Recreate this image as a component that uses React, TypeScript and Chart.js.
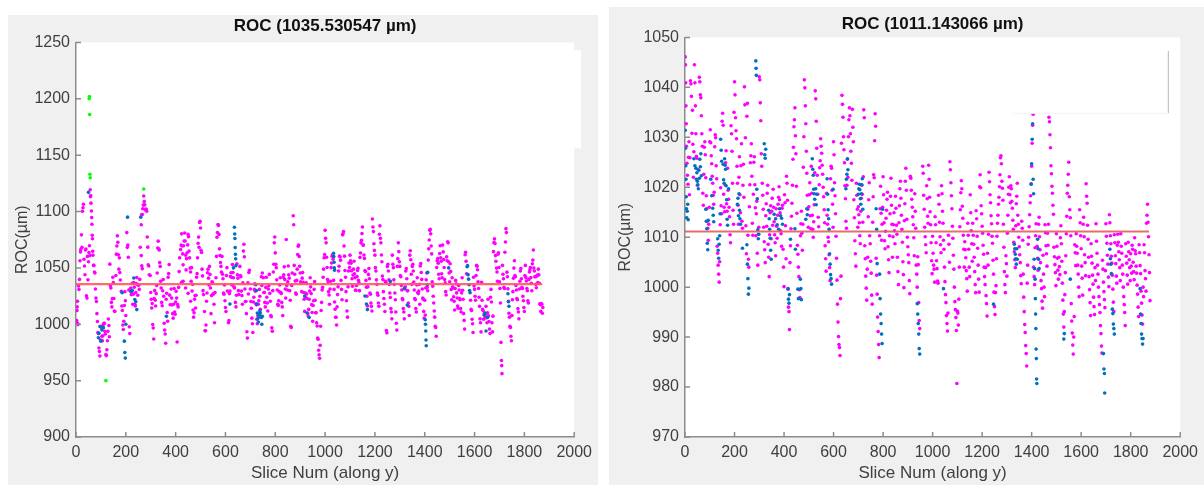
import React, { useEffect, useRef } from "react";
import { Chart, registerables } from "chart.js";

Chart.register(...registerables);

type P = [number, number];

const FONT = "'Liberation Sans', Arial, Helvetica, sans-serif";
const AXIS_COLOR = "#8c8c8c";
const TEXT_COLOR = "#404040";

// ---------- shared axis text ----------
const xAxisTitle = "Slice Num (along y)";
const yAxisTitle = "ROC(µm)";
const xTickRange = [0, 2000, 200]; // min, max, step

// ---------- left panel ----------
const leftTitle = "ROC (1035.530547 µm)";
const leftMean = 1035.530547;
const leftMeanX = [0, 1872];
const leftYRange = [900, 1250, 50];

const leftMagenta: P[] = [
  [2,1001.3],[3,1003.2],[4,1012.2],[5,1015.4],[6,1020.4],[7,1000.7],[8,999.7],[10,1033.9],[12,1030.9],[14,1039.8],[16,1056.3],[18,1064.2],[19,1066.2],
  [22,1079.3],[24,1068.2],[26,1100.2],[28,1103.4],[30,1106.4],[32,1057.7],[34,1051.7],[36,1043.9],[38,1065.9],[40,1066.8],[42,1025.3],[44,1023.2],[46,1060.2],[48,1039.4],[50,1055.4],[52,1063.7],[54,1069.7],[56,1060.9],
  [57,1119.3],[58,1113.2],[59,1114.2],[60,1107.4],[62,1100.4],[63,1094.7],[64,1088.7],[65,1078.9],[66,1075.9],[67,1064.8],[68,1061.3],[70,1052.2],[72,1052.2],[74,1046.4],[76,1045.4],
  [78,1031.3],[80,1023.2],[82,1020.2],[84,1009.4],[86,1002.4],[88,992.7],[90,991.7],[92,978.9],[94,975.9],[96,971.8],[98,986.3],[100,998.2],[102,997.2],[104,989.4],[106,985.4],[108,989.7],[110,999.7],[112,1000.9],[114,1000.9],[116,993.8],[118,991.3],[120,973.2],[122,972.2],[124,977.4],[126,985.4],[128,993.7],[130,1004.7],[132,998.9],[134,988.9],
  [136,1053.3],[138,1034.2],[140,1032.2],[142,1019.4],[144,1015.4],[146,1022.7],[148,1041.7],[150,1036.9],[152,1022.9],[154,1011.8],[156,1011.3],[160,1043.2],[162,1062.2],[164,1069.4],[166,1078.4],[168,1072.7],[170,1061.7],[172,1048.9],[174,1058.9],[176,1045.8],[178,1039.3],
  [182,1029.3],[184,1016.2],[186,1012.2],[188,999.4],[190,995.4],[192,1002.7],[194,1016.7],[196,1028.9],[198,1020.9],[200,1007.8],[204,1081.3],[206,1068.2],[208,1070.2],[210,1059.4],[212,1030.4],[214,997.7],[216,991.7],
  [218,1031.3],[220,1032.2],[222,1026.2],[224,1027.4],[226,1036.4],[228,1017.7],[230,1026.7],[232,1036.9],[234,1032.9],[236,1017.8],[238,1016.3],[240,1028.2],[242,1036.2],[244,1041.4],[246,1035.4],[248,1025.7],[250,1034.7],[252,1034.9],[254,1030.9],[256,1039.8],
  [258,1068.3],[262,1088.2],[264,1097.2],[266,1097.4],[268,1102.4],[270,1105.7],[272,1113.7],[274,1108.9],[276,1105.9],[278,1101.8],[280,1101.3],[282,1102.2],[284,1100.2],[286,1077.4],[288,1068.4],[290,1052.7],[292,1051.7],[294,1043.9],[262,1060.9],[264,1051.8],[266,1049.3],
  [298,1043.3],[300,1028.2],[302,1022.2],[304,1014.4],[306,1018.4],[308,999.7],[310,996.7],[312,986.9],[314,1022.9],[316,1029.8],[318,1021.3],[320,1016.2],[322,1027.2],[324,1034.4],[326,1045.4],[328,1067.7],[330,1073.7],[332,1066.9],[334,1065.9],[336,1054.8],[338,1051.3],[340,1038.2],[342,1032.2],[344,1019.4],[346,1016.4],[348,1029.7],[350,1039.7],[352,1024.9],[354,1000.9],[356,994.8],[358,991.3],[360,983.2],[362,1022.2],[364,1027.4],[366,1010.4],[368,1002.7],[370,1041.7],[372,1044.9],[374,1052.9],[376,1025.8],[378,1017.3],
  [382,1031.3],[384,1023.2],[386,1017.2],[388,1009.4],[390,1005.4],[392,1017.7],[394,1031.7],[396,1010.9],[398,1008.9],[400,1019.8],[402,1029.3],[404,1023.2],[406,984.2],[408,1017.4],[410,1015.4],[412,1032.7],[414,1046.7],[416,1058.9],
  [420,1066.3],[422,1070.2],[424,1080.2],[426,1069.4],[428,1062.4],[430,1052.7],[432,1069.7],[434,1073.9],[436,1080.9],[438,1073.8],[440,1061.3],[442,1048.2],[444,1058.2],[446,1063.4],[448,1070.4],[450,1079.7],[452,1077.7],[454,1064.9],[456,1058.9],[458,1049.8],[460,1046.3],[462,1038.2],[464,1050.2],[466,1029.4],[468,1035.4],
  [424,1037.3],[430,1038.2],[440,1032.2],[450,1027.4],[460,1020.4],[470,1012.7],
  [472,1006.3],[474,1010.2],[476,1022.2],[478,1025.4],[480,1014.4],[482,1025.7],[484,1041.7],[486,1044.9],[488,1058.9],[490,1071.8],[492,1077.3],[494,1068.2],[496,1090.2],[498,1091.4],[500,1085.4],[502,1065.7],[504,1063.7],[506,1048.9],[508,1042.9],[510,1029.8],[512,1026.3],
  [516,1011.3],[518,994.2],[520,994.2],[522,999.4],[524,1020.4],[526,1027.7],[528,1045.7],[530,1048.9],[532,1040.9],[534,1034.8],[536,1051.3],[538,1044.2],[540,1032.2],[542,1009.4],[544,1025.4],[546,1037.7],[548,1036.7],[550,1026.9],[552,1026.9],[554,1017.8],[556,1001.3],[558,1028.2],
  [562,1041.3],[564,1060.2],[566,1077.2],[568,1081.4],[570,1088.4],[572,1087.7],[574,1079.7],[576,1066.9],[578,1060.9],[580,1054.8],[582,1051.3],[584,1046.2],[586,1060.2],[588,1044.4],[590,1040.4],[592,1027.7],[594,1026.7],[596,1034.9],[598,1020.9],[600,1014.8],[602,1011.3],[604,1043.2],[606,1050.2],[608,1029.4],
  [612,1001.3],[614,1003.2],[616,1027.2],[618,1029.4],[620,1042.4],[622,1045.7],[624,1041.7],[626,1034.9],[628,1052.9],[630,1045.8],[632,1041.3],[634,1033.2],[636,1032.2],[640,1019.4],[642,1015.4],[644,1025.7],[646,1053.7],[648,1043.9],[650,1040.9],[652,1029.8],[654,1026.3],
  [658,1051.3],[660,1043.2],[662,1042.2],[664,1029.4],[666,1025.4],[668,1017.7],[670,1036.7],[672,1064.9],[674,1070.9],[676,1059.8],[678,1031.3],[680,1020.2],[682,1020.2],[684,1009.4],[686,993.4],[688,987.7],[690,1036.7],[692,1026.9],[694,1045.9],[696,1047.8],
  [700,1031.3],[702,1020.2],[704,1014.2],[706,1005.4],[708,1000.4],[710,992.7],[712,1019.7],[714,1023.9],[716,1030.9],[718,1035.8],[720,1029.3],[722,1018.2],[724,1017.2],[726,1004.4],[728,1000.4],[730,1007.7],[732,1017.7],[734,1020.9],[736,1030.9],[738,1024.8],[740,1013.3],[742,1006.2],[744,1042.2],[746,1034.4],[748,1045.4],
  [752,1041.3],[754,1028.2],[756,1028.2],[758,1019.4],[760,1015.4],[762,1032.7],[764,1041.7],[766,1023.9],[768,1018.9],[770,1011.8],[772,1031.3],[774,1034.2],[776,1044.2],[778,1027.4],[780,1020.4],[782,1007.7],[784,1006.7],[786,996.9],[788,993.9],[790,1029.8],[792,1046.3],[794,1053.2],[796,1072.2],[798,1077.4],
  [800,1063.3],[802,1053.2],[804,1050.2],[806,1039.4],[808,1030.4],[810,1017.7],[812,1016.7],[814,1020.9],[816,1028.9],[818,1034.8],[820,1041.3],[822,1028.2],[824,1027.2],[826,1019.4],[828,1015.4],[830,1007.7],[832,1041.7],[834,1043.9],[836,1050.9],[838,1039.8],[840,1031.3],[842,1023.2],[844,1075.2],[846,1034.4],[848,1030.4],[850,1037.7],[852,1051.7],[854,1043.9],[856,1040.9],[858,1029.8],[860,1021.3],[862,998.2],[864,997.2],[866,1034.4],[868,1045.4],
  [872,1096.3],[874,1088.2],[876,1052.2],[878,1044.4],[880,1038.4],[882,1027.7],[884,1026.7],[886,1038.9],[888,1048.9],[890,1061.8],[892,1069.3],[894,1070.2],[896,1060.2],[898,1051.4],[900,1045.4],[902,1037.7],[904,1036.7],[906,1028.9],[908,1040.9],[910,1045.8],[912,1037.3],[914,1028.2],[916,1022.2],[918,1011.4],[920,1024.4],[922,1027.7],[924,1036.7],[926,1026.9],[928,1022.9],[930,1009.8],[932,1007.3],[934,1013.2],[936,1022.2],[938,1029.4],
  [940,1041.3],[942,1033.2],[944,1027.2],[946,1017.4],[948,1010.4],[950,1002.7],[952,1016.7],[954,1020.9],[956,1030.9],[958,1037.8],[960,1021.3],[962,1010.2],[964,1010.2],[966,1001.4],[968,998.4],[970,987.7],[972,986.7],[974,976.9],[976,972.9],[978,969.8],[980,981.3],[982,998.2],[984,1012.2],[986,1019.4],[988,1030.4],[990,1032.7],[992,1041.7],[994,1048.9],[996,1058.9],[998,1061.8],
  [1000,1083.3],[1002,1076.2],[1004,1072.2],[1006,1059.4],[1008,1050.4],[1010,1039.7],[1012,1037.7],[1014,1028.9],[1016,1025.9],[1018,1017.8],[1020,1031.3],[1022,1038.2],[1024,1050.2],[1026,1054.4],[1028,1060.4],[1030,1061.7],[1032,1057.7],[1034,1038.9],[1036,1030.9],[1038,1019.8],[1040,1013.3],[1042,1006.2],[1044,1006.2],[1046,999.4],[1048,1015.4],
  [1050,1026.3],[1052,1033.2],[1054,1047.2],[1056,1051.4],[1058,1060.4],[1060,1059.7],[1062,1056.7],[1064,1038.9],[1066,1030.9],[1068,1021.8],[1070,1079.3],[1072,1080.2],[1074,1082.2],[1076,1069.4],[1078,1060.4],[1080,1047.7],[1082,1041.7],[1084,1028.9],[1086,1020.9],[1088,1011.8],[1090,1006.3],[1092,1033.2],[1094,1047.2],[1096,1054.4],[1098,1050.4],
  [1100,1061.3],[1102,1056.2],[1104,1054.2],[1106,1047.4],[1108,1040.4],[1110,1033.7],[1112,1043.7],[1114,1048.9],[1116,1055.9],[1118,1044.8],[1120,1041.3],[1122,1030.2],[1124,1030.2],[1126,1034.4],[1128,1042.4],[1130,1047.7],[1132,1049.7],[1134,1038.9],[1136,1036.9],[1138,1029.8],[1140,1059.3],[1142,1063.2],[1144,1072.2],[1146,1074.4],[1148,1080.4],
  [1150,1086.3],[1152,1070.2],[1154,1070.2],[1156,1061.4],[1158,1058.4],[1160,1047.7],[1162,1046.7],[1164,1038.9],[1166,1032.9],[1168,1024.8],[1170,1016.3],[1172,1033.2],[1174,1044.2],[1176,1049.4],[1178,1040.4],[1180,1027.7],[1182,1026.7],[1184,1018.9],[1186,1015.9],[1188,1011.8],[1190,1093.3],[1192,1086.2],[1194,1082.2],[1196,1071.4],[1198,1065.4],
  [1200,1061.3],[1202,1050.2],[1204,1047.2],[1206,1039.4],[1208,1035.4],[1210,1027.7],[1212,1025.7],[1214,1018.9],[1216,1015.9],[1218,1079.8],[1220,1087.3],[1222,1076.2],[1224,1072.2],[1226,1061.4],[1228,1055.4],[1230,1042.7],[1232,1039.7],[1234,1028.9],[1236,1022.9],[1238,1017.8],[1240,1011.3],[1242,1038.2],[1244,1037.2],[1246,994.4],[1248,992.4],
  [1250,1051.3],[1252,1053.2],[1254,1047.2],[1256,1039.4],[1258,1035.4],[1260,1027.7],[1262,1023.7],[1264,1013.9],[1266,1010.9],[1268,1004.8],[1270,1061.3],[1272,1053.2],[1274,1050.2],[1276,1039.4],[1278,1035.4],[1280,1027.7],[1282,1021.7],[1284,1010.9],[1286,1000.9],[1288,994.8],[1290,1051.3],[1292,1058.2],[1294,1072.2],[1296,1064.4],[1298,1055.4],
  [1300,1051.3],[1302,1043.2],[1304,1042.2],[1306,1034.4],[1308,1030.4],[1310,1022.7],[1312,1021.7],[1314,1013.9],[1316,1010.9],[1318,1004.8],[1320,1031.3],[1322,1033.2],[1324,1047.2],[1326,1049.4],[1328,1040.4],[1330,1029.7],[1332,1029.7],[1334,1018.9],[1336,1015.9],[1338,1007.8],[1340,1061.3],[1342,1065.2],[1344,1057.2],[1346,1044.4],[1348,1035.4],
  [1350,1051.3],[1352,1053.2],[1354,1047.2],[1356,1037.4],[1358,1030.4],[1360,1022.7],[1362,1021.7],[1364,1013.9],[1366,1010.9],[1368,1034.8],[1370,1041.3],[1372,1028.2],[1374,1027.2],[1376,1029.4],[1378,1035.4],[1380,1017.7],[1382,1051.7],[1384,1053.9],[1386,1045.9],[1388,1039.8],[1390,1031.3],[1392,1023.2],[1394,1022.2],[1396,1011.4],[1398,1005.4],
  [1400,1021.3],[1402,1008.2],[1404,1032.2],[1406,1039.4],[1408,1045.4],[1410,1032.7],[1412,1029.7],[1414,1056.9],[1416,1066.9],[1418,1074.8],[1420,1083.3],[1422,1084.2],[1424,1080.2],[1426,1069.4],[1428,1062.4],[1430,1037.7],[1432,1033.7],[1434,1024.9],[1436,1018.9],[1438,1011.8],[1440,1006.3],[1442,998.2],[1444,997.2],[1446,989.4],[1448,1050.4],
  [1450,1056.3],[1452,1058.2],[1454,1054.2],[1456,1044.4],[1458,1040.4],[1460,1062.7],[1462,1069.7],[1464,1058.9],[1466,1055.9],[1468,1044.8],[1470,1041.3],[1472,1070.2],[1474,1064.2],[1476,1057.4],[1478,1050.4],[1480,1039.7],[1482,1036.7],[1484,1028.9],[1486,1025.9],[1488,1059.8],[1490,1056.3],[1492,1073.2],[1494,1072.2],[1496,1055.4],[1498,1045.4],[1500,1037.7],[1502,1053.7],[1504,1046.9],[1506,1030.9],[1508,1021.8],
  [1510,1041.3],[1512,1033.2],[1514,1032.2],[1516,1024.4],[1518,1020.4],[1520,1012.7],[1522,1031.7],[1524,1038.9],[1526,1035.9],[1528,1027.8],[1530,1023.3],[1532,1016.2],[1534,1014.2],[1536,1034.4],[1538,1030.4],[1540,1022.7],[1542,1021.7],[1544,1013.9],[1546,1010.9],[1548,1027.8],[1550,1041.3],[1552,1030.2],[1554,1022.2],[1556,1009.4],[1558,1003.4],[1560,995.7],[1562,1061.7],[1564,1063.9],[1566,1055.9],[1568,1044.8],
  [1584,1021.3],[1586,1013.2],[1588,1012.2],[1590,1004.4],[1592,1000.4],[1594,992.7],[1596,1041.7],[1598,1033.9],[1600,1030.9],[1602,1024.8],[1604,1021.3],[1606,1043.2],[1608,1052.2],[1610,1051.4],[1612,1048.4],[1614,1037.7],[1616,1031.7],[1618,1023.9],[1620,1015.9],[1622,1004.8],[1624,1001.3],[1626,993.2],[1628,1037.2],
  [1630,1021.3],[1632,1013.2],[1634,1012.2],[1636,1004.4],[1638,1008.4],[1640,1009.7],[1642,1005.7],[1644,1008.9],[1646,1015.9],[1648,1005.8],[1650,1001.3],[1652,1010.2],[1654,1022.2],[1656,1007.4],[1658,1002.4],[1660,995.7],[1662,991.7],[1664,1023.9],[1666,1030.9],[1668,1019.8],[1670,1001.3],[1672,993.2],[1674,1007.2],[1676,1064.4],[1678,1072.4],[1680,1075.7],[1682,1071.7],[1684,1060.9],[1686,1055.9],[1688,1049.8],
  [1690,1046.3],[1692,1038.2],[1694,1062.2],[1696,1063.4],[1698,1050.4],[1700,1037.7],[1702,1031.7],[1704,1018.9],[1706,983.9],[1708,967.8],[1709,963.3],[1710,956.2],[1712,1052.2],[1714,1044.4],[1716,1040.4],[1718,1032.7],[1720,1031.7],[1722,1063.9],[1724,1072.9],[1726,1084.8],[1728,1081.3],[1730,1046.2],[1732,1042.2],[1734,1031.4],[1736,1020.4],[1738,1009.7],
  [1740,1006.3],[1742,998.2],[1744,997.2],[1746,989.4],[1748,985.4],[1750,1007.7],[1752,1021.7],[1754,1028.9],[1756,1040.9],[1758,1049.8],[1760,1056.3],[1762,1043.2],[1764,1042.2],[1766,1034.4],[1768,1030.4],[1770,1022.7],[1772,1021.7],[1774,1013.9],[1776,1010.9],[1778,1004.8],[1780,1031.3],[1782,1038.2],[1784,1047.2],[1786,1049.4],[1788,1040.4],[1790,1032.7],[1792,1031.7],[1794,1024.9],[1796,1020.9],[1798,1014.8],
  [1800,1011.3],[1802,1043.2],[1804,1052.2],[1806,1041.4],[1808,1038.4],[1810,1031.7],[1812,1029.7],[1814,1020.9],[1816,1018.9],[1818,1039.8],[1820,1046.3],[1822,1048.2],[1824,1050.2],[1826,1041.4],[1828,1036.4],[1830,1029.7],[1832,1053.7],[1834,1056.9],[1836,1065.9],[1838,1049.8],[1840,1047.3],[1842,1042.2],[1844,1042.2],[1846,1035.4],[1848,1032.4],[1850,1042.7],[1852,1043.7],[1854,1036.9],[1856,1048.9],[1858,1043.8],[1860,1036.3],[1862,1018.2],[1864,1017.2],[1866,1011.4],[1868,1018.4],[1870,1017.7],[1872,1009.7],[1874,1014.9],
];

const leftBlue: P[] = [
  [50,1117],[90,988],[92,992],[96,998],[100,985],[104,995],[110,997],[185,1028],[194,985],[196,975],[198,970],[200,1000],[207,1095],
  [220,1029],[226,1030],[232,1041],[236,1022],[240,1020],[244,1013],[260,1095],[363,1007],[618,1018],[632,1050],
  [636,1086],[637,1080],[638,1076],[639,1068],[640,1062],[641,1058],[642,1052],
  [722,1035],[724,1030],[726,1018],[728,1010],[730,1005],[732,1002],[736,1008],[738,1012],[740,1010],[744,1006],[746,1000],[748,1007],
  [918,1025],[928,1010],[936,1006],[1034,1063],[1035,1060],[1036,1055],[1037,1050],[1038,1048],[1160,1025],[1166,1018],[1170,1013],
  [1262,1038],[1318,1032],[1330,1017],[1402,1004],[1403,1000],[1404,994],[1405,986],[1406,981],[1410,1035],[1412,1046],[1496,1050],
  [1570,1051],[1572,1052],[1574,1044],[1576,1040],[1578,1035],[1580,1030],[1582,1028],[1640,1008],[1642,1010],[1646,994],[1652,1006],
  [1734,1027],[1736,1020],[1738,1016],
];

const leftGreen: P[] = [[53,1200],[54,1202],[55,1186],[56,1133],[57,1130],[120,950],[272,1120]];

// ---------- right panel ----------
const rightTitle = "ROC (1011.143066 µm)";
const rightMean = 1011.143066;
const rightMeanX = [0, 1874];
const rightYRange = [970, 1050, 10];

const rightMagenta: P[] = [
  [1,1046.1],[2,1044.5],[3,1040.9],[4,1036.3],[5,1032.7],[6,1028.2],[8,1024.8],[10,1022.4],[12,1020.6],[14,1026.0],[16,1029.1],[18,1018.5],[20,1025.9],
  [22,1041.3],[24,1040.7],[26,1038.2],[28,1030.8],[30,1035.4],[32,1028.6],[34,1022.0],[36,1027.1],[38,1044.5],[40,1040.9],[42,1036.3],[44,1030.7],[46,1026.2],[48,1025.8],[50,1020.4],[52,1023.6],
  [58,1042.0],[60,1041.1],[62,1038.5],[64,1037.9],[66,1034.3],[68,1030.7],[70,1028.2],[72,1018.8],[74,1016.4],[76,1022.6],[78,1028.0],[80,1029.1],[82,1026.5],[84,1021.9],[86,1018.3],[88,1015.7],[90,1013.2],[92,1011.8],[94,1009.4],[96,1012.6],[98,1016.0],
  [100,1029.1],[102,1031.5],[104,1028.9],[106,1026.3],[108,1024.7],[110,1022.2],[112,1020.8],[114,1018.4],[116,1016.6],[118,1019.0],[120,1028.1],[122,1030.5],[124,1029.9],[126,1024.3],[128,1021.7],[130,1008.2],[132,1006.8],[134,1004.4],[136,1002.6],[138,1001.0],[140,1005.1],[142,1012.5],[144,1019.9],[146,1016.3],[148,1014.7],
  [150,1033.2],[152,1034.8],[154,1032.4],[156,1018.6],[158,1016.0],[160,1015.1],[162,1020.5],[164,1024.9],[166,1027.3],[168,1016.7],[170,1015.2],[172,1023.8],[174,1019.4],[176,1017.6],[178,1016.0],[180,1014.1],[182,1010.5],[184,1008.9],[186,1032.3],[188,1030.7],[190,1027.2],[192,1020.8],[194,1015.4],[196,1012.6],[198,1035.0],
  [200,1041.1],[202,1038.5],[204,1033.9],[206,1031.3],[208,1029.7],[210,1024.2],[212,1020.8],[214,1016.4],[216,1012.6],[218,1022.0],[220,1026.1],[222,1018.5],[224,1014.9],[226,1024.3],[228,1028.7],[230,1013.2],[232,1011.8],[234,1020.4],[236,1024.6],[238,1018.0],[240,1040.1],[242,1036.5],[244,1029.9],[246,1012.3],[248,1006.7],
  [250,1034.2],[252,1036.8],[254,1010.4],[256,1005.6],[258,1004.0],[260,1016.1],[262,1020.5],[264,1024.9],[266,1026.3],[268,1028.7],[270,1022.2],[272,1012.8],[274,1010.4],[276,1018.6],[278,1025.0],[280,1026.1],[282,1020.5],[284,1015.9],[286,1010.3],[288,1014.7],[290,1017.2],[292,1006.8],[294,1004.4],[296,1010.6],[298,1012.0],
  [300,1042.1],[302,1041.5],[304,1036.9],[306,1033.3],[308,1026.7],[310,1024.2],[312,1020.8],[314,1018.4],[316,1015.6],[318,1012.0],[320,1009.1],[322,1007.5],[324,1004.9],[326,1014.3],[328,1016.7],[330,1012.2],[332,1018.8],[334,1020.4],[336,1008.6],[338,1006.0],[340,1002.1],[342,1010.5],[344,1014.9],[346,1016.3],[348,1009.7],
  [350,1015.2],[352,1017.8],[354,1012.4],[356,1019.6],[358,1016.0],[360,1013.1],[362,1010.5],[364,1008.9],[366,1006.3],[368,1015.7],[370,1012.2],[372,1009.8],[374,1014.4],[376,1016.6],[378,1018.0],[380,1020.1],[382,1017.5],[384,1014.9],[386,1011.3],[388,1010.7],[390,1008.2],[392,1015.8],[394,1016.4],[396,1007.6],[398,1004.0],[400,1000.1],[402,1018.5],[404,1016.9],[406,1012.3],[408,1005.7],
  [410,1022.2],[412,1020.8],[414,1017.4],[416,999.6],[418,996.0],[420,995.1],[422,991.5],[424,1004.9],[426,1008.3],[428,1011.7],[430,1014.2],[432,1016.8],[434,1020.4],[436,1025.6],[438,1028.0],[440,1032.1],[442,1033.5],[444,1035.9],[446,1030.3],[448,1026.7],[450,1020.2],[452,1014.8],[454,1008.4],[456,1006.6],[458,1004.0],
  [460,1002.1],[462,999.5],[464,997.9],[466,1010.3],[468,1012.7],[470,1015.2],[472,1010.8],[474,1007.4],[476,1012.6],[478,1024.0],[480,1030.1],[482,1041.5],[484,1039.9],[486,1036.3],[488,1032.7],[490,1027.2],[492,1022.8],[494,1018.4],[496,1015.6],[498,1012.0],[500,1016.1],[502,1018.5],[504,1020.9],[506,1014.3],[508,1011.7],
  [510,1024.2],[512,1018.8],[514,1014.4],[516,1011.6],[518,1010.0],[520,1013.1],[522,1016.5],[524,1022.9],[526,1039.3],[528,1037.7],[530,1033.2],[532,1027.8],[534,1022.4],[536,1018.6],[538,1014.0],[540,1012.1],[542,1020.5],[544,1023.9],[546,1025.3],[548,1029.7],[550,1028.2],[552,1026.8],[554,1024.4],[556,1022.6],[558,1020.0],
  [560,1018.1],[562,1015.5],[564,1012.9],[566,1008.3],[568,1005.7],[570,1003.2],[572,1018.8],[574,1014.4],[576,1012.6],[578,1010.0],[580,1009.1],[582,1006.5],[584,1003.9],[586,1001.3],[588,1021.7],[590,1024.2],[592,1023.8],[594,1019.4],[596,1016.6],[598,1012.0],[600,1029.1],[602,1026.5],[604,1020.9],[606,1018.3],[608,1014.7],
  [610,1010.2],[612,1005.8],[614,1001.4],[616,996.6],[618,993.0],[620,990.1],[622,988.5],[624,987.9],[626,986.3],[628,997.7],[630,1002.2],[632,1028.8],[634,1038.4],[636,1036.6],[638,1034.0],[640,1030.1],[642,1027.5],[644,1024.9],[646,1020.3],[648,1017.7],[650,1013.2],[652,1011.8],[654,1020.4],[656,1025.6],[658,1022.0],
  [660,1030.1],[662,1033.5],[664,1035.9],[666,1034.3],[668,1030.7],[670,1027.2],[672,1024.8],[674,1021.4],[676,1035.6],[678,1032.0],[680,1029.1],[682,1017.5],[684,1013.9],[686,1009.3],[688,1006.7],[690,1004.2],[692,1020.8],[694,1018.4],[696,1015.6],[698,1012.0],[700,1016.1],[702,1014.5],[704,1012.9],[706,1010.3],[708,1008.7],[710,1015.2],[712,1017.8],[714,1020.4],[716,1018.6],[718,1013.0],
  [720,1022.1],[722,1035.5],[724,1033.9],[726,1008.3],[728,1005.7],[730,1002.2],[732,999.8],[734,997.4],[736,1003.6],[738,1006.0],[740,1014.1],[742,1017.5],[744,1020.9],[746,1010.3],[748,1008.7],[750,1005.2],[752,1002.8],[754,998.4],[756,996.6],[758,1013.0],[760,1018.1],[762,1022.5],[764,1021.9],[766,1029.3],[768,1034.7],[770,1032.2],[772,1005.8],[774,1002.4],[776,998.6],[778,994.0],
  [780,991.1],[782,988.5],[784,985.9],[786,1010.3],[788,1015.7],[790,1020.2],[792,1014.8],[794,1009.4],[796,1012.6],[798,1016.0],[800,1022.1],[802,1018.5],[804,1012.9],[806,1009.3],[808,1007.7],[810,1011.2],[812,1013.8],[814,1015.4],[816,1017.6],[818,1019.0],[820,1008.1],[822,1005.5],[824,1002.9],[826,1010.3],[828,1014.7],[830,1018.2],[832,1021.8],[834,1016.4],[836,1012.6],[838,1006.0],
  [840,1010.1],[842,1012.5],[844,1014.9],[846,1011.3],[848,1008.7],[850,1018.2],[852,1015.8],[854,1012.4],[856,1010.6],[858,1006.0],[860,1003.1],[862,1000.5],[864,1012.9],[866,1016.3],[868,1019.7],[870,1021.2],[872,1017.8],[874,1014.4],[876,1011.6],[878,1009.0],[880,1005.1],[882,1002.5],[884,999.9],[886,1013.3],[888,1016.7],[890,1021.2],[892,1023.8],[894,1019.4],[896,1013.6],[898,1010.0],
  [900,1008.1],[902,1006.5],[904,1004.9],[906,1001.3],[908,998.7],[910,1022.2],[912,1021.8],[914,1019.4],[916,1017.6],[918,1016.0],[920,1014.1],[922,1012.5],[924,1009.9],[926,1006.3],[928,1018.7],[930,1015.2],[932,1011.8],[934,1004.4],[936,1002.6],[938,1000.0],[940,1006.1],[942,1004.5],[944,996.9],[946,993.3],[948,991.7],
  [960,1024.2],[962,1022.8],[964,1018.4],[966,1015.6],[968,1012.0],[970,1010.1],[972,1008.5],[974,1006.9],[976,1020.3],[978,1017.7],[980,1014.2],[982,1012.8],[984,1024.4],[986,1021.6],[988,1018.0],[990,1015.1],[992,1012.5],[994,1008.9],[996,1005.3],[998,1002.7],[1000,1010.2],[1002,1006.8],[1004,1004.4],[1006,1003.6],[1008,1001.0],
  [1010,1014.1],[1012,1012.5],[1014,1008.9],[1016,1005.3],[1018,1003.7],[1020,1001.2],[1022,1000.8],[1024,1018.4],[1026,1016.6],[1028,1013.0],[1030,1010.1],[1032,1008.5],[1034,1006.9],[1036,1020.3],[1038,1018.7],[1040,1015.2],[1042,1012.8],[1044,1009.4],[1046,1007.6],[1048,1004.0],[1050,1001.1],[1052,998.5],[1054,996.9],[1056,994.3],[1058,992.7],[1060,991.2],[1062,994.8],[1064,1010.4],[1066,1008.6],[1068,1005.0],
  [1070,1025.1],[1072,1023.5],[1074,1020.9],[1076,1018.3],[1078,1015.7],[1080,1012.2],[1082,1009.8],[1084,1006.4],[1086,1003.6],[1088,1000.0],[1090,997.1],[1092,995.5],[1094,993.9],[1096,991.3],[1098,980.7],[1100,995.2],[1102,994.8],[1104,992.4],[1106,997.6],[1108,1004.0],[1110,1012.1],[1112,1015.5],[1114,1018.9],[1116,1021.3],[1118,1019.7],[1120,1016.2],[1122,1013.8],[1124,1010.4],[1126,1007.6],[1128,1004.0],
  [1130,1009.1],[1132,1007.5],[1134,1005.9],[1136,1003.3],[1138,1001.7],[1140,999.2],[1142,1012.8],[1144,1010.4],[1146,1007.6],[1148,1004.0],[1150,1002.1],[1152,1018.5],[1154,1014.9],[1156,1011.3],[1158,1008.7],[1160,1005.2],[1162,1012.8],[1164,1010.4],[1166,1008.6],[1168,1006.0],[1170,1003.1],[1172,1000.5],[1174,998.9],[1176,1015.3],[1178,1013.7],[1180,1010.2],[1182,1007.8],[1184,1004.4],[1186,1001.6],[1188,999.0],
  [1190,1020.1],[1192,1022.5],[1194,1019.9],[1196,1016.3],[1198,1014.7],[1200,1012.2],[1202,1010.8],[1204,1008.4],[1206,1006.6],[1208,1004.0],[1210,1002.1],[1212,1000.5],[1214,1003.9],[1216,998.3],[1218,996.7],[1220,994.2],[1222,1006.8],[1224,1004.4],[1226,1010.6],[1228,1023.0],[1230,1021.1],[1232,1018.5],[1234,1016.9],[1236,1014.3],[1238,1012.7],[1240,1010.2],[1242,1008.8],[1244,1005.4],[1246,1002.6],[1248,999.0],
  [1250,996.1],[1252,994.5],[1254,998.9],[1256,1000.3],[1258,1005.7],[1260,1010.2],[1262,1012.8],[1264,1014.4],[1266,1016.6],[1268,1018.0],[1270,1020.1],[1272,1022.5],[1274,1025.9],[1276,1026.3],[1278,1024.7],[1280,1021.2],[1282,1019.8],[1284,1017.4],[1286,1012.6],[1288,1008.0],[1290,1003.1],[1292,1000.5],[1294,998.9],[1296,1006.3],[1298,1004.7],[1300,1002.2],[1302,1010.8],[1304,1014.4],[1306,1018.6],[1308,1020.0],
  [1310,1022.1],[1312,1018.5],[1314,1016.9],[1316,1020.3],[1318,1019.7],[1320,1017.2],[1322,1015.8],[1324,1013.4],[1326,1011.6],[1328,1009.0],[1330,1007.1],[1332,1005.5],[1334,1003.9],[1336,1012.3],[1338,1016.7],[1340,1018.2],[1342,1020.8],[1344,1014.4],[1346,1012.6],[1348,1010.0],[1350,1008.1],[1352,1006.5],[1354,1004.9],[1356,1002.3],[1358,1000.7],[1360,1013.2],[1362,1011.8],[1364,1009.4],[1366,1002.6],[1368,998.0],
  [1370,995.1],[1372,992.5],[1374,990.9],[1376,988.3],[1378,986.7],[1380,984.2],[1382,1000.8],[1384,1004.4],[1386,1008.6],[1388,1010.0],[1390,1012.1],[1392,1014.5],[1394,1016.9],[1396,1018.3],[1398,1020.7],[1400,1024.2],[1402,1028.8],[1404,1032.4],[1406,1034.6],[1408,1004.0],[1410,1002.1],[1412,1000.5],[1414,1007.9],[1416,1010.3],[1418,1012.7],
  [1422,1008.2],[1424,1005.8],[1426,1003.4],[1428,1012.6],[1430,1014.0],[1432,1010.1],[1434,1007.5],[1436,1004.9],[1438,1001.3],[1440,999.7],[1442,997.2],[1444,995.8],[1446,1006.4],[1448,1002.6],[1450,1000.0],[1452,998.1],[1454,1012.5],[1456,1010.9],[1458,1008.3],[1460,1006.7],[1462,1004.2],[1464,1010.8],[1466,1008.4],[1468,1012.6],
  [1470,1034.0],[1472,1033.1],[1474,1030.5],[1476,1027.9],[1478,1024.3],[1480,1022.7],[1482,1020.2],[1484,1018.8],[1486,1016.4],[1488,1014.6],[1490,1008.0],[1492,1006.1],[1494,1004.5],[1496,1002.9],[1498,1000.3],[1500,1010.7],[1502,1008.2],[1504,1005.8],[1506,1003.4],[1508,1001.6],[1510,1006.0],[1512,1004.1],[1514,1002.5],[1516,1009.9],[1518,1012.3],
  [1520,1008.7],[1522,1005.2],[1524,1000.8],[1526,997.4],[1528,994.6],[1530,992.0],[1532,995.1],[1534,998.5],[1536,1002.9],[1538,1006.3],[1540,1010.7],[1542,1014.2],[1544,1018.8],[1546,1020.4],[1548,1022.6],[1550,1025.0],[1552,1018.1],[1554,1015.5],[1556,1013.9],[1558,1010.3],[1560,996.7],[1562,993.2],[1564,990.8],[1566,988.4],[1568,986.6],[1570,990.0],[1572,994.1],[1574,1008.5],[1576,1006.9],[1578,1004.3],
  [1580,1010.7],[1582,1008.2],[1584,1006.8],[1586,1004.4],[1588,1002.6],[1590,1000.0],[1592,998.1],[1594,1015.5],[1596,1012.9],[1598,1010.3],[1600,1007.7],[1602,1004.2],[1604,1001.8],[1606,998.4],[1608,1012.6],[1610,1014.0],[1612,1010.1],[1614,1006.5],[1616,1004.9],[1618,1002.3],[1620,1020.7],[1622,1018.2],[1624,1016.8],[1626,1012.4],[1628,1009.6],[1630,1006.0],[1632,1002.1],[1634,999.5],[1636,996.9],[1638,994.3],
  [1640,1008.7],[1642,1006.2],[1644,1004.8],[1646,1002.4],[1648,1000.6],[1650,998.0],[1652,996.1],[1654,994.5],[1656,1003.9],[1658,1001.3],[1660,1012.7],[1662,1009.2],[1664,1006.8],[1666,1004.4],[1668,1002.6],[1670,1000.0],[1672,998.1],[1674,996.5],[1676,994.9],[1678,992.3],[1680,990.7],[1682,988.2],[1684,986.8],[1686,1005.4],[1688,1003.6],[1690,1001.0],[1692,999.1],[1694,997.5],[1696,995.9],[1698,1003.3],
  [1700,1012.7],[1702,1010.2],[1704,1008.8],[1706,1006.4],[1708,1004.6],[1710,1002.0],[1712,1000.1],[1714,1014.5],[1716,1012.9],[1718,1010.3],[1720,1008.7],[1722,1006.2],[1724,1004.8],[1726,1002.4],[1728,999.6],[1730,997.0],[1732,995.1],[1734,1010.5],[1736,1008.9],[1738,1006.3],[1740,1004.7],[1742,1002.2],[1744,1000.8],[1746,1008.4],[1748,1010.6],[1750,1009.0],[1752,1007.1],[1754,1005.5],[1756,1003.9],[1758,1001.3],
  [1760,1010.7],[1762,1008.2],[1764,1006.8],[1766,1004.4],[1768,1002.6],[1770,1000.0],[1772,998.1],[1774,996.5],[1776,994.9],[1778,992.3],[1780,1008.7],[1782,1006.2],[1784,1004.8],[1786,1002.4],[1788,1000.6],[1790,1009.0],[1792,1007.1],[1794,1005.5],[1796,1003.9],[1798,1001.3],[1800,1006.7],[1802,1004.2],[1804,1002.8],[1806,1008.4],[1808,1007.6],[1810,1005.0],[1812,1003.1],[1814,1001.5],[1816,1009.9],[1818,1007.3],
  [1820,1006.7],[1822,1004.2],[1824,1002.8],[1826,1000.4],[1828,998.6],[1830,996.0],[1832,994.1],[1834,1008.5],[1836,1006.9],[1838,1004.3],[1840,1002.7],[1842,999.2],[1844,996.8],[1846,994.4],[1848,992.6],[1850,1000.0],[1852,998.1],[1854,1008.5],[1856,1006.9],[1858,1003.3],[1860,1001.7],[1862,999.2],[1864,1012.8],[1866,1014.4],[1868,1016.6],[1870,1013.0],[1872,1010.1],[1874,1006.5],[1876,1002.9],[1878,997.3],
];

const rightBlue: P[] = [
  [1,1031.4],[2,1027.8],[3,1024.3],[4,1021.6],[5,1018.1],[6,1015.7],[7,1013.9],[9,1015.2],[11,1016.6],[13,1013.5],
  [36,1025.7],[40,1024.3],[44,1023.8],[46,1021.6],[48,1022.9],[50,1021.2],[52,1020.5],[54,1019.7],[56,1023.4],[58,1021.8],[60,1025.6],[62,1024.1],[64,1026.7],[66,1022.3],
  [84,1015.6],[86,1013.2],[88,1011.7],[90,1008.8],[92,1007.5],[94,1013.4],
  [104,1021.6],[108,1018.3],[112,1015.8],[114,1014.4],[116,1013.1],[132,1009.7],[134,1007.4],[136,1005.8],[138,1008.6],[140,1010.3],[142,1014.7],[144,1029.6],[146,1027.4],[148,1025.2],
  [154,1024.6],[156,1021.5],[158,1020.8],[160,1025.7],[162,1024.4],[164,1023.6],[166,1020.3],[168,1017.5],[170,1013.6],[172,1012.4],[176,1019.7],
  [212,1016.6],[214,1017.8],[216,1014.3],[218,1018.7],[220,1015.4],[222,1013.7],[224,1012.6],[232,1007.8],[250,1008.5],[252,1004.6],[254,1001.7],[256,998.6],[258,999.8],
  [286,1045.3],[287,1043.8],[288,1042.4],[290,1019.6],[292,1017.7],[294,1011.5],[296,1009.7],[298,1010.6],
  [320,1028.7],[322,1026.5],[324,1025.8],[326,1027.6],[338,1015.4],[340,1013.7],[342,1011.6],[344,1009.8],[346,1007.4],[348,1005.6],
  [360,1014.6],[366,1013.7],[372,1012.5],[378,1011.6],[382,1015.7],[386,1014.3],[390,1013.8],[394,1012.6],
  [416,999.7],[418,997.6],[420,996.8],[422,998.5],[426,1009.6],[444,1011.7],[446,1007.6],[456,999.6],[458,997.7],
  [466,1001.6],[468,999.7],[470,997.5],[488,1013.6],[492,1015.7],[494,1014.5],
  [514,1025.7],[516,1023.6],[518,1022.4],[520,1019.6],[522,1018.7],[524,1017.6],[528,1019.7],[530,1016.5],[532,1018.6],
  [574,1021.7],[576,1018.6],[578,1015.5],[580,1013.7],[582,1011.6],[584,1006.7],[586,1004.6],[588,1002.5],[590,1001.7],[592,1000.6],[598,1019.6],
  [650,1019.7],[652,1021.6],[654,1022.6],[656,1025.7],[658,1023.5],
  [700,1018.6],[702,1019.7],[704,1020.6],[706,1019.5],[708,1017.7],[710,1016.6],[712,1018.7],[714,1020.5],[716,1021.7],[718,1015.6],
  [772,1015.7],[774,1011.6],[776,1004.7],[786,1002.6],[788,997.7],[790,994.6],[792,992.7],[794,990.6],[796,988.7],[798,1015.6],
  [938,996.7],[940,994.6],[942,992.7],[944,990.6],[946,987.7],[948,986.6],[1044,999.7],[1246,996.6],
  [1330,1008.6],[1332,1007.7],[1334,1006.6],[1336,1005.7],[1338,1004.6],[1340,1007.7],[1342,1005.6],
  [1398,1020.6],[1400,1024.7],[1402,1029.6],[1404,1032.7],[1406,1021.6],[1408,1018.7],[1410,1005.6],[1412,1003.7],[1414,1001.6],[1415,997.7],[1416,994.6],[1417,991.7],[1418,987.6],[1419,985.7],[1420,981.6],[1421,980.7],[1424,1009.6],[1426,1007.7],[1428,1005.6],[1430,1003.7],
  [1530,989.6],[1532,990.7],[1556,1001.6],[1690,986.7],[1692,983.6],[1694,982.7],[1695,978.8],
  [1716,1007.6],[1718,1005.7],[1720,1004.6],[1722,1002.7],[1726,995.6],[1728,994.7],[1730,992.6],[1732,991.7],[1734,990.6],
  [1838,999.7],[1840,994.6],[1842,992.7],[1844,990.6],[1846,989.7],[1848,988.6],[1850,989.7],
];

const rightGreen: P[] = [];

// white legend-remnant boxes (data coordinates)
const leftBox = { x0: 2000, x1: 2028, y0: 1156, y1: 1243, edge: false };
const rightBox = { x0: 1327, x1: 1952, y0: 1034.8, y1: 1047.3, edge: true };

// ---------- plugins ----------
const bgPlugin = {
  id: "panelBg",
  beforeDraw(chart: any) {
    const { ctx, chartArea: a, width, height } = chart;
    ctx.save();
    ctx.fillStyle = "#f0f0f0";
    ctx.fillRect(0, 0, width, height);
    ctx.fillStyle = "#ffffff";
    ctx.fillRect(a.left, a.top, a.right - a.left, a.bottom - a.top);
    ctx.restore();
  },
};

const inTicksPlugin = {
  id: "inTicks",
  afterDraw(chart: any) {
    const { ctx, chartArea: a } = chart;
    const xs = chart.scales.x;
    const ys = chart.scales.y;
    ctx.save();
    ctx.strokeStyle = AXIS_COLOR;
    ctx.lineWidth = 1.5;
    ctx.beginPath();
    xs.ticks.forEach((t: any) => {
      const p = xs.getPixelForValue(t.value);
      ctx.moveTo(p, a.bottom);
      ctx.lineTo(p, a.bottom - 5);
    });
    ys.ticks.forEach((t: any) => {
      const p = ys.getPixelForValue(t.value);
      ctx.moveTo(a.left, p);
      ctx.lineTo(a.left + 5, p);
    });
    ctx.stroke();
    ctx.restore();
  },
};

function makeBoxPlugin(box: { x0: number; x1: number; y0: number; y1: number; edge: boolean }) {
  return {
    id: "legendBox",
    afterDatasetsDraw(chart: any) {
      const xs = chart.scales.x;
      const ys = chart.scales.y;
      const l = xs.getPixelForValue(box.x0);
      const r = xs.getPixelForValue(box.x1);
      const t = ys.getPixelForValue(box.y1);
      const b = ys.getPixelForValue(box.y0);
      const ctx = chart.ctx;
      ctx.save();
      ctx.fillStyle = "#ffffff";
      ctx.fillRect(l, t, r - l, b - t);
      if (box.edge) {
        ctx.strokeStyle = "#b8b8b8";
        ctx.lineWidth = 1;
        ctx.beginPath();
        ctx.moveTo(r, t);
        ctx.lineTo(r, b);
        ctx.stroke();
        ctx.strokeStyle = "#f2f2f2";
        ctx.beginPath();
        ctx.moveTo(l, b);
        ctx.lineTo(r, b);
        ctx.stroke();
      }
      ctx.restore();
    },
  };
}

interface PanelProps {
  left: number;
  top: number;
  width: number;
  height: number;
  title: string;
  titlePad: { top: number; bottom: number };
  padRight: number;
  yAxisWidth: number;
  yTitlePad: number;
  yRange: number[];
  mean: number;
  meanX: number[];
  magenta: P[];
  blue: P[];
  green: P[];
  box: { x0: number; x1: number; y0: number; y1: number; edge: boolean };
  lineColor: string;
  lineWidth: number;
}

function Panel(props: PanelProps) {
  const ref = useRef<HTMLCanvasElement | null>(null);
  useEffect(() => {
    if (!ref.current) return;
    const toPts = (arr: P[]) => arr.map(([x, y]) => ({ x, y }));
    const tickFont = { family: FONT, size: 16 };
    const plain = (v: any) => String(v);
    const chart = new Chart(ref.current, {
      type: "scatter",
      data: {
        datasets: [
          {
            type: "line",
            data: [
              { x: props.meanX[0], y: props.mean },
              { x: props.meanX[1], y: props.mean },
            ],
            borderColor: props.lineColor,
            borderWidth: props.lineWidth,
            pointRadius: 0,
            fill: false,
            order: 0,
          } as any,
          {
            data: toPts(props.green),
            pointBackgroundColor: "#00ff00",
            pointBorderWidth: 0,
            pointRadius: 1.8,
            order: 1,
          },
          {
            data: toPts(props.blue),
            pointBackgroundColor: "#0072bd",
            pointBorderWidth: 0,
            pointRadius: 1.8,
            order: 2,
          },
          {
            data: toPts(props.magenta),
            pointBackgroundColor: "#ff00ff",
            pointBorderWidth: 0,
            pointRadius: 1.8,
            order: 3,
          },
        ],
      },
      options: {
        animation: false,
        responsive: false,
        devicePixelRatio: 1,
        events: [],
        layout: { padding: { left: 0, right: props.padRight, top: 0, bottom: 0 } },
        plugins: {
          legend: { display: false },
          tooltip: { enabled: false },
          title: {
            display: true,
            text: props.title,
            color: "#111111",
            font: { family: FONT, size: 17, weight: "bold" },
            padding: props.titlePad,
            fullSize: false,
          },
        },
        scales: {
          x: {
            type: "linear",
            min: xTickRange[0],
            max: xTickRange[1],
            ticks: {
              stepSize: xTickRange[2],
              font: tickFont,
              color: TEXT_COLOR,
              padding: 6,
              maxRotation: 0,
              autoSkip: false,
              callback: plain,
            },
            grid: { display: false, drawTicks: false },
            border: { display: true, color: AXIS_COLOR, width: 1.5 },
            title: {
              display: true,
              text: xAxisTitle,
              color: TEXT_COLOR,
              font: { family: FONT, size: 17 },
              padding: { top: 0, bottom: 1 },
            },
            afterFit: (s: any) => {
              s.height = 48;
            },
          },
          y: {
            type: "linear",
            min: props.yRange[0],
            max: props.yRange[1],
            ticks: {
              stepSize: props.yRange[2],
              font: tickFont,
              color: TEXT_COLOR,
              padding: 6,
              autoSkip: false,
              callback: plain,
            },
            grid: { display: false, drawTicks: false },
            border: { display: true, color: AXIS_COLOR, width: 1.5 },
            title: {
              display: true,
              text: yAxisTitle,
              color: TEXT_COLOR,
              font: { family: FONT, size: 16 },
              padding: { top: props.yTitlePad, bottom: 0 },
            },
            afterFit: (s: any) => {
              s.width = props.yAxisWidth;
            },
          },
        },
      } as any,
      plugins: [bgPlugin, inTicksPlugin, makeBoxPlugin(props.box)],
    });
    return () => chart.destroy();
  }, []);
  return (
    <canvas
      ref={ref}
      width={props.width}
      height={props.height}
      style={{ position: "absolute", left: props.left, top: props.top, width: props.width, height: props.height }}
    />
  );
}

export default function App() {
  return (
    <div style={{ position: "absolute", left: 0, top: 0, width: 1204, height: 485, background: "#ffffff", overflow: "hidden" }}>
      <Panel
        left={8}
        top={15}
        width={590}
        height={470}
        title={leftTitle}
        titlePad={{ top: 1, bottom: 6 }}
        padRight={22}
        yAxisWidth={68}
        yTitlePad={5}
        yRange={leftYRange}
        mean={leftMean}
        meanX={leftMeanX}
        magenta={leftMagenta}
        blue={leftBlue}
        green={leftGreen}
        box={leftBox}
        lineColor="rgba(255,90,90,0.9)"
        lineWidth={2.2}
      />
      <Panel
        left={609}
        top={7}
        width={595}
        height={478}
        title={rightTitle}
        titlePad={{ top: 7, bottom: 3 }}
        padRight={15}
        yAxisWidth={76}
        yTitlePad={7}
        yRange={rightYRange}
        mean={rightMean}
        meanX={rightMeanX}
        magenta={rightMagenta}
        blue={rightBlue}
        green={rightGreen}
        box={rightBox}
        lineColor="rgba(225,95,90,0.9)"
        lineWidth={1.8}
      />
    </div>
  );
}
